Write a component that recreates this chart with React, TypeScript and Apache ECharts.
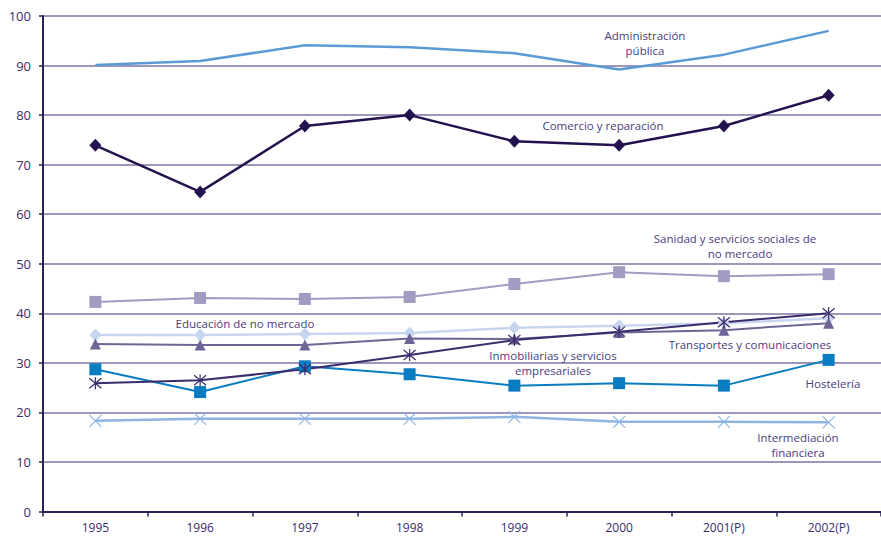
import React, { useEffect, useRef } from "react";
import * as echarts from "echarts";

const years = ["1995", "1996", "1997", "1998", "1999", "2000", "2001(P)", "2002(P)"];
const yTicks = [0, 10, 20, 30, 40, 50, 60, 70, 80, 90, 100];

const administracion = [90.1, 90.9, 94.1, 93.7, 92.5, 89.2, 92.2, 97.0];
const comercio = [73.9, 64.5, 77.8, 80.0, 74.7, 73.9, 77.8, 84.0];
const sanidad = [42.3, 43.1, 42.9, 43.3, 45.9, 48.3, 47.5, 47.9];
const educacion = [35.6, 35.6, 35.8, 36.0, 37.1, 37.5, 38.0, 39.0];
const transportes = [33.8, 33.6, 33.6, 34.9, 34.8, 36.1, 36.6, 38.0];
const inmobiliarias = [25.9, 26.5, 28.7, 31.6, 34.6, 36.3, 38.2, 40.0];
const hosteleria = [28.7, 24.1, 29.3, 27.7, 25.4, 25.9, 25.4, 30.6];
const intermediacion = [18.3, 18.7, 18.7, 18.7, 19.1, 18.1, 18.1, 18.0];

const annotationLines = [
  { text: "Administración", x: 645, y: 35 },
  { text: "pública", x: 645, y: 50 },
  { text: "Comercio y reparación", x: 603, y: 125 },
  { text: "Sanidad y servicios sociales de", x: 735, y: 238 },
  { text: "no mercado", x: 740, y: 253 },
  { text: "Educación de no mercado", x: 245, y: 323 },
  { text: "Transportes y comunicaciones", x: 750, y: 344 },
  { text: "Inmobiliarias y servicios", x: 553, y: 355 },
  { text: "empresariales", x: 553, y: 370 },
  { text: "Hostelería", x: 833, y: 383 },
  { text: "Intermediación", x: 798, y: 437 },
  { text: "financiera", x: 798, y: 452 },
];

const TEXT = "#4a3d7c";
const FONT = "'Open Sans', 'Noto Sans', sans-serif";

const xPath = "path://M0,0 L10,10 M10,0 L0,10";
const asterPath = "path://M0,0 L10,10 M10,0 L0,10 M5,-1 L5,11";

export default function App() {
  const ref = useRef<HTMLDivElement>(null);
  useEffect(() => {
    document.body.style.margin = "0";
    const chart = echarts.init(ref.current!, null, { renderer: "svg" });
    const line = (name: string, data: number[], color: string, symbol: string, size: number | number[], extra: any = {}) => ({
      name,
      type: "line",
      data,
      symbol,
      symbolSize: size,
      showSymbol: symbol !== "none",
      lineStyle: { color, width: 2 },
      itemStyle: { color },
      z: 2,
      ...extra,
    });
    chart.setOption({
      animation: false,
      backgroundColor: "#ffffff",
      grid: { left: 43, top: 16, width: 850, height: 495.5 },
      xAxis: {
        type: "category",
        data: years,
        boundaryGap: true,
        axisLine: { lineStyle: { color: "#2b1f5c", width: 2 } },
        axisTick: { show: true, length: 5, lineStyle: { color: "#2b1f5c", width: 1.5 } },
        axisLabel: { color: "#3a2d6b", fontSize: 12, fontFamily: FONT, margin: 10 },
        splitLine: { show: false },
      },
      yAxis: {
        type: "value",
        min: yTicks[0],
        max: yTicks[yTicks.length - 1],
        interval: 10,
        axisLine: { show: true, lineStyle: { color: "#2b1f5c", width: 2 } },
        axisTick: { show: true, length: 4, lineStyle: { color: "#2b1f5c", width: 1.5 } },
        axisLabel: { color: "#3a2d6b", fontSize: 13, fontFamily: FONT, margin: 12 },
        splitLine: { show: true, lineStyle: { color: "#7d76a5", width: 1.5 } },
      },
      series: [
        line("Administración pública", administracion, "#5b9bd5", "none", 0, { lineStyle: { color: "#5b9bd5", width: 2.5 } }),
        line("Comercio y reparación", comercio, "#24124f", "diamond", [12, 13], { lineStyle: { color: "#24124f", width: 2.5 } }),
        line("Sanidad y servicios sociales de no mercado", sanidad, "#a29bc2", "rect", 12),
        line("Educación de no mercado", educacion, "#c7d6ee", "diamond", [12, 13], { lineStyle: { color: "#c7d6ee", width: 2.5 } }),
        line("Transportes y comunicaciones", transportes, "#6e6597", "triangle", 11),
        line("Hostelería", hosteleria, "#0a7cc1", "rect", 12),
        line("Inmobiliarias y servicios empresariales", inmobiliarias, "#3b2c6b", asterPath, 12, {
          itemStyle: { color: "none", borderColor: "#3b2c6b", borderWidth: 1.2 },
        }),
        line("Intermediación financiera", intermediacion, "#8fb5e3", xPath, 12, {
          lineStyle: { color: "#8fb5e3", width: 2.5 },
          itemStyle: { color: "none", borderColor: "#8fb5e3", borderWidth: 1.2 },
        }),
      ],
      graphic: annotationLines.map((a) => ({
        type: "text",
        x: a.x,
        y: a.y,
        z: 10,
        style: {
          text: a.text,
          fill: TEXT,
          font: `11.5px ${FONT}`,
          align: "center",
          verticalAlign: "middle",
        },
      })),
    });
    return () => chart.dispose();
  }, []);
  return <div ref={ref} style={{ width: 881, height: 537 }} />;
}
